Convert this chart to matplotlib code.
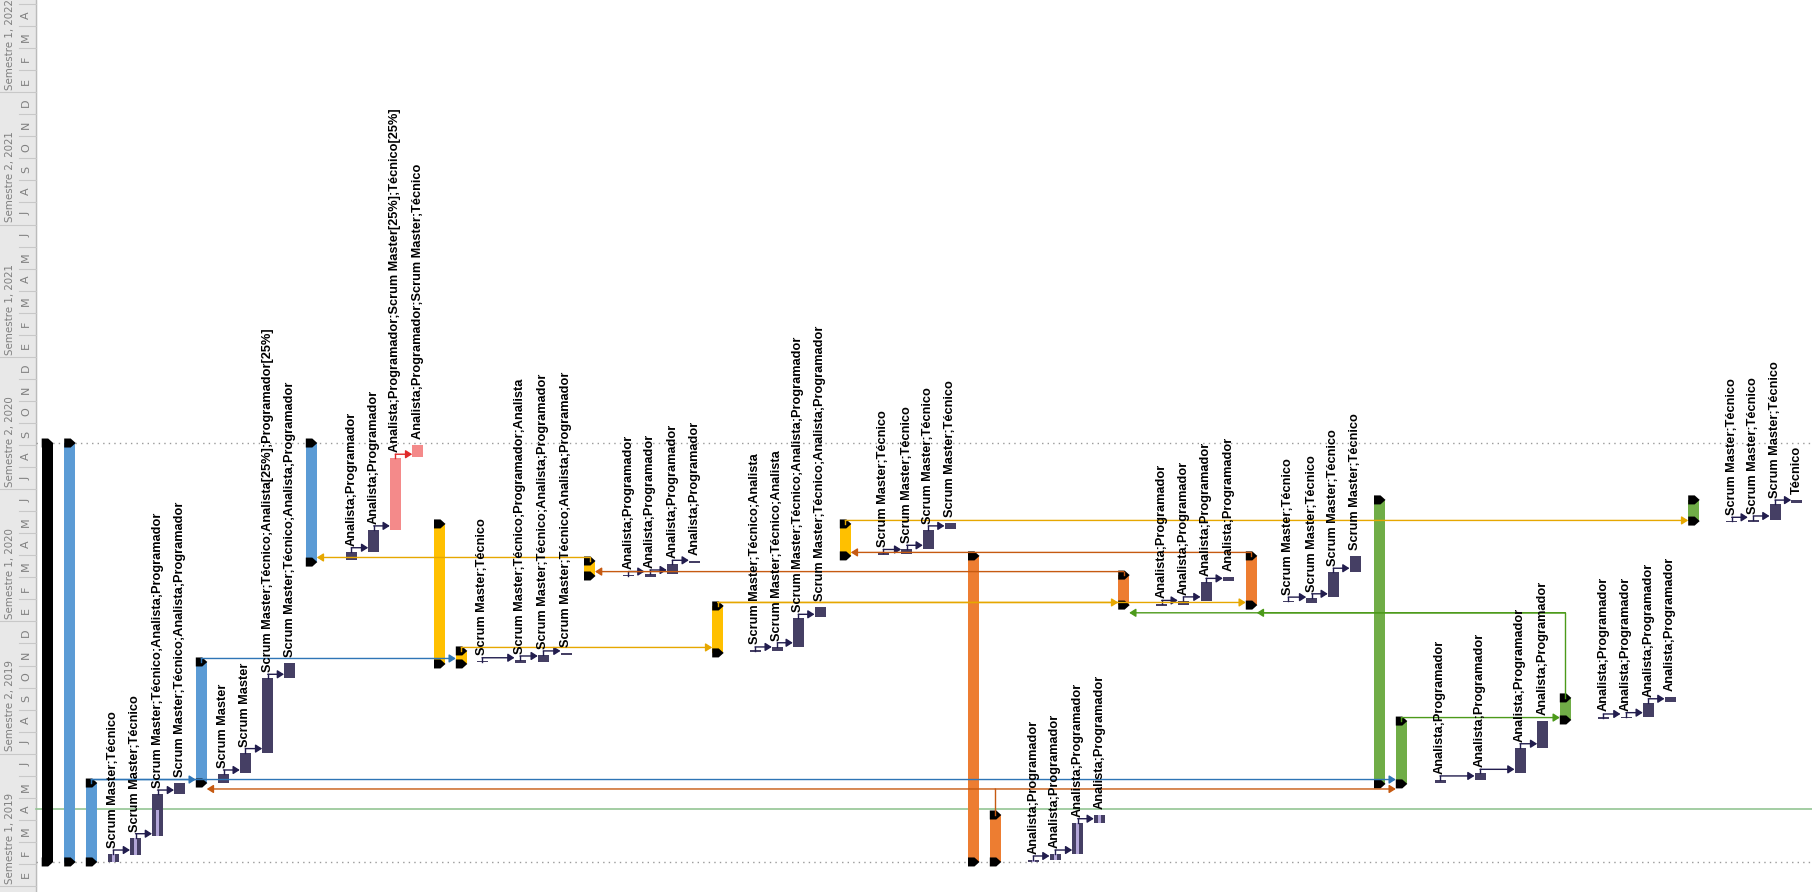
import matplotlib
matplotlib.use('Agg')
import matplotlib.pyplot as plt
from matplotlib.patches import Rectangle, Polygon

# posicion de cada fila (columna del gantt girado) y su fase
fila_x = [47.2, 69.7, 91.3, 113.3, 135.5, 157.5, 179.5, 201.3, 223.5, 245.3,
          267.7, 289.5, 311.3, 351.3, 373.7, 395.3, 417.7, 439.5, 461.3, 482.0,
          520.0, 543.3, 566.0, 589.5, 628.3, 650.0, 672.3, 694.3, 717.7, 755.0,
          777.3, 798.3, 820.0, 845.3, 883.3, 906.7, 928.3, 950.0, 973.5, 995.3,
          1033.3, 1055.0, 1077.7, 1099.3, 1123.7, 1161.7, 1183.3, 1206.0, 1228.3, 1251.3,
          1288.3, 1311.7, 1333.3, 1355.0, 1379.5, 1401.3, 1440.0, 1480.0, 1520.0, 1542.7,
          1565.3, 1603.3, 1626.0, 1648.3, 1670.0, 1693.7, 1731.7, 1753.3, 1775.0, 1796.7]

fase = ['proyecto', 'azul', 'azul', 'tarea', 'tarea', 'tarea', 'tarea', 'azul', 'tarea', 'tarea',
        'tarea', 'tarea', 'azul', 'tarea', 'tarea', 'rosa', 'rosa', 'amarillo', 'amarillo', 'tarea',
        'tarea', 'tarea', 'tarea', 'amarillo', 'tarea', 'tarea', 'tarea', 'tarea', 'amarillo', 'tarea',
        'tarea', 'tarea', 'tarea', 'amarillo', 'tarea', 'tarea', 'tarea', 'tarea', 'naranja', 'naranja',
        'tarea', 'tarea', 'tarea', 'tarea', 'naranja', 'tarea', 'tarea', 'tarea', 'tarea', 'naranja',
        'tarea', 'tarea', 'tarea', 'tarea', 'verde', 'verde', 'tarea', 'tarea', 'tarea', 'tarea',
        'verde', 'tarea', 'tarea', 'tarea', 'tarea', 'verde', 'tarea', 'tarea', 'tarea', 'tarea']

# meses desde enero 2019
inicio = [1.09, 1.09, 1.09, 1.09, 1.41, 2.27, 4.17, 4.67, 4.68, 5.11,
          6.05, 9.45, 14.69, 14.78, 15.16, 16.15, 19.47, 10.07, 10.07, 10.14,
          10.11, 10.17, 10.48, 14.06, 14.04, 14.03, 14.15, 14.66, 10.57, 10.61,
          10.66, 10.85, 12.21, 14.97, 15.03, 15.06, 15.27, 16.18, 1.09, 1.09,
          1.07, 1.18, 1.45, 2.87, 12.74, 12.72, 12.74, 12.94, 13.82, 12.74,
          12.87, 12.84, 13.09, 14.25, 4.63, 4.63, 4.68, 4.81, 5.11, 6.27,
          7.53, 7.57, 7.61, 7.68, 8.36, 16.55, 16.50, 16.52, 16.60, 17.36]
fin = [20.09, 20.09, 4.67, 1.45, 2.19, 4.17, 4.68, 10.16, 5.08, 6.05,
       9.42, 10.10, 20.09, 15.16, 16.15, 19.40, 20.00, 16.42, 10.66, 10.17,
       10.25, 10.48, 10.58, 14.74, 14.08, 14.15, 14.59, 14.75, 12.70, 10.66,
       10.85, 12.14, 12.67, 16.42, 15.08, 15.27, 16.15, 16.45, 14.97, 3.22,
       1.18, 1.45, 2.87, 3.22, 14.10, 12.77, 12.93, 13.77, 14.03, 14.97,
       12.92, 13.07, 14.23, 14.97, 17.51, 7.48, 4.81, 5.11, 6.27, 7.48,
       8.53, 7.62, 7.68, 8.31, 8.56, 17.51, 16.54, 16.60, 17.32, 17.51]

avance = {3: 1.0, 4: 1.0, 5: 0.62, 40: 1.0, 41: 1.0, 42: 1.0, 43: 1.0}

recursos = ['', '', '', 'Scrum Master;Técnico', 'Scrum Master;Técnico',
            'Scrum Master;Técnico;Analista;Programador', 'Scrum Master;Técnico;Analista;Programador', '',
            'Scrum Master', 'Scrum Master', 'Scrum Master;Técnico;Analista[25%];Programador[25%]',
            'Scrum Master;Técnico;Analista;Programador', '', 'Analista;Programador', 'Analista;Programador',
            'Analista;Programador;Scrum Master[25%];Técnico[25%]', 'Analista;Programador;Scrum Master;Técnico',
            '', '', 'Scrum Master;Técnico', 'Scrum Master;Técnico;Programador;Analista',
            'Scrum Master;Técnico;Analista;Programador', 'Scrum Master;Técnico;Analista;Programador', '',
            'Analista;Programador', 'Analista;Programador', 'Analista;Programador', 'Analista;Programador', '',
            'Scrum Master;Técnico;Analista', 'Scrum Master;Técnico;Analista',
            'Scrum Master;Técnico;Analista;Programador', 'Scrum Master;Técnico;Analista;Programador', '',
            'Scrum Master;Técnico', 'Scrum Master;Técnico', 'Scrum Master;Técnico', 'Scrum Master;Técnico',
            '', '', 'Analista;Programador', 'Analista;Programador', 'Analista;Programador',
            'Analista;Programador', '', 'Analista;Programador', 'Analista;Programador',
            'Analista;Programador', 'Analista;Programador', '', 'Scrum Master;Técnico',
            'Scrum Master;Técnico', 'Scrum Master;Técnico', 'Scrum Master;Técnico', '', '',
            'Analista;Programador', 'Analista;Programador', 'Analista;Programador', 'Analista;Programador', '',
            'Analista;Programador', 'Analista;Programador', 'Analista;Programador', 'Analista;Programador', '',
            'Scrum Master;Técnico', 'Scrum Master;Técnico', 'Scrum Master;Técnico', 'Técnico']

enlaces_tarea = [(3, 4), (4, 5), (5, 6), (8, 9), (9, 10), (10, 11), (13, 14), (14, 15), (15, 16),
                 (19, 20), (20, 21), (21, 22), (24, 25), (25, 26), (26, 27), (29, 30), (30, 31), (31, 32),
                 (34, 35), (35, 36), (36, 37), (40, 41), (41, 42), (42, 43), (45, 46), (46, 47), (47, 48),
                 (50, 51), (51, 52), (52, 53), (56, 57), (57, 58), (58, 59), (61, 62), (62, 63), (63, 64),
                 (66, 67), (67, 68), (68, 69)]

# (predecesora, sucesoras, mes del tramo horizontal si va desviado)
enlaces_fase = [(2, [7, 55], None), (7, [18], None), (39, [7, 55], 4.40), (23, [12], None),
                (44, [23], None), (18, [28], None), (28, [44, 49], None), (49, [33], None),
                (33, [65], None), (60, [44, 49], 12.39), (55, [60], None)]

fecha_estado = 3.49
meses = ['E', 'F', 'M', 'A', 'M', 'J', 'J', 'A', 'S', 'O', 'N', 'D']

colores = {'proyecto': '#000000', 'azul': '#5B9BD5', 'amarillo': '#FFC000', 'naranja': '#ED7D31',
           'verde': '#70AD47', 'rosa': '#F48A8A', 'tarea': '#453F64'}
color_enlace = {'azul': '#2E75B6', 'amarillo': '#E6A700', 'naranja': '#C65A11', 'verde': '#4C9A1A',
                'rosa': '#E02A2A', 'tarea': '#221D4E'}

MES = 22.05          # px por mes
W = 11.0             # ancho de barra
Y0, Y1 = -6 / MES, 886 / MES

fig = plt.figure(figsize=(18.12, 8.92), dpi=100)
ax = fig.add_axes([0, 0, 1, 1])
ax.set_xlim(0, 1812)
ax.set_ylim(Y0, Y1)
ax.axis('off')

# escala de tiempo (franja izquierda)
ax.add_patch(Rectangle((0, Y0), 36, Y1 - Y0, color='#E8E8E8', zorder=0))
ax.plot([36, 36], [Y0, Y1], color='#BBBBBB', lw=1, zorder=1)
for m in range(0, 41):
    x0 = 0 if m % 6 == 0 else 19
    ax.plot([x0, 36], [m, m], color='#C8C8C8', lw=0.8, zorder=1)
for m in range(0, 40):
    ax.text(26, m + 0.5, meses[m % 12], rotation=90, ha='center', va='center',
            fontsize=8, color='#7F7F7F', family='DejaVu Sans')
for s in range(7):
    ax.text(10.5, 6 * s + 0.1, f'Semestre {s % 2 + 1}, {2019 + s // 2}', rotation=90,
            ha='center', va='bottom', fontsize=7.4, color='#7F7F7F', family='DejaVu Sans')

# linea de estado y limites del proyecto
ax.plot([36, 1812], [fecha_estado] * 2, color='#93C593', lw=1.2, zorder=1)
for t in (inicio[0], fin[0]):
    ax.plot([36, 1812], [t, t], color='#9A9A9A', lw=1, ls=(0, (1, 3)), zorder=1)

cap = 4.5 / MES
for i, x in enumerate(fila_x):
    c = colores[fase[i]]
    t0, t1 = inicio[i], fin[i]
    if fase[i] in ('tarea', 'rosa'):
        alto = max(t1 - t0, 1.6 / MES)
        ax.add_patch(Rectangle((x - W / 2, t0), W, alto, color=c, lw=0, zorder=3))
        if i in avance:
            ax.add_patch(Rectangle((x - 1.5, t0), 3, (t1 - t0) * avance[i], color='#B3A6D8', lw=0, zorder=3.5))
        if recursos[i]:
            ax.text(x, t0 + alto + 6 / MES, recursos[i], rotation=90, ha='center', va='bottom',
                    fontsize=9.2, fontweight='bold', family='Liberation Sans', zorder=5)
    else:
        ax.add_patch(Rectangle((x - W / 2, t0), W, t1 - t0, color=c, lw=0, zorder=2))
        for t in (t0, t1):
            pts = [(x - W / 2, t - cap), (x + 1, t - cap), (x + W / 2 + 0.5, t),
                   (x + 1, t + cap), (x - W / 2, t + cap)]
            ax.add_patch(Polygon(pts, closed=True, color='black', lw=0, zorder=3))

flecha = '-|>,head_length=0.55,head_width=0.35'

for a, b in enlaces_tarea:
    col = color_enlace[fase[a]]
    yh = fin[a] + 4 / MES
    ax.plot([fila_x[a], fila_x[a]], [fin[a], yh], color=col, lw=1, zorder=4)
    ax.annotate('', xy=(fila_x[b] - W / 2, yh), xytext=(fila_x[a], yh),
                arrowprops=dict(arrowstyle=flecha, color=col, lw=1, shrinkA=0, shrinkB=0,
                                mutation_scale=7), zorder=4)

for a, sucesoras, ruta in enlaces_fase:
    col = color_enlace[fase[a]]
    yh = ruta if ruta is not None else fin[a] + 3.5 / MES
    ax.plot([fila_x[a], fila_x[a]], [fin[a], yh], color=col, lw=1, zorder=4)
    for b in sucesoras:
        xt = fila_x[b] - W / 2 if fila_x[b] > fila_x[a] else fila_x[b] + W / 2
        ax.annotate('', xy=(xt, yh), xytext=(fila_x[a], yh),
                    arrowprops=dict(arrowstyle=flecha, color=col, lw=1, shrinkA=0, shrinkB=0,
                                    mutation_scale=7), zorder=4)

fig.savefig('out.png', dpi=100)
